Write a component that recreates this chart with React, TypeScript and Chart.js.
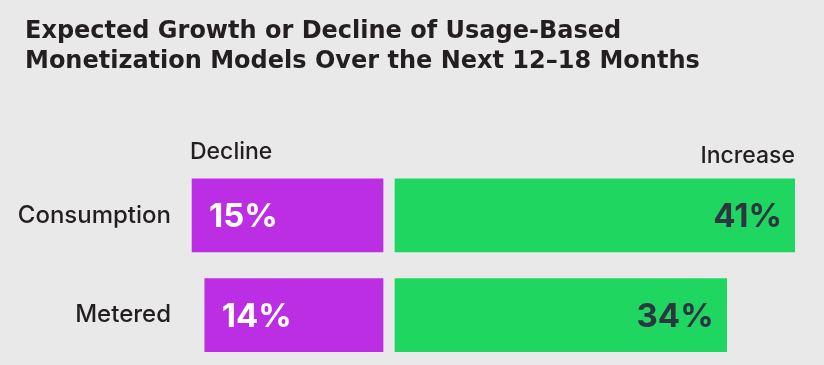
import { useEffect, useRef } from "react";
import { Chart, registerables } from "chart.js";

Chart.register(...registerables);

const TITLE_LINES = [
  "Expected Growth or Decline of Usage-Based",
  "Monetization Models Over the Next 12–18 Months",
];
const CATEGORIES = ["Consumption", "Metered"];
const DECLINE = [15, 14];
const INCREASE = [41, 34];
const DECLINE_LABEL = "Decline";
const INCREASE_LABEL = "Increase";

const BG = "#e9e9e9";
const TEXT = "#231f20";
const PURPLE = "#bb2ee3";
const GREEN = "#1fd760";
const DARK_LABEL = "#2c3641";

const valueLabels = {
  id: "valueLabels",
  afterLayout(chart: any) {
    // let the category labels use the space left of the title margin
    if (chart.scales.y) chart.scales.y.left = 0;
  },
  afterDatasetsDraw(chart: any) {
    const ctx = chart.ctx;
    chart.data.datasets.forEach((_ds: any, i: number) => {
      const meta = chart.getDatasetMeta(i);
      meta.data.forEach((el: any, j: number) => {
        const v = i === 0 ? DECLINE[j] : INCREASE[j];
        const left = Math.min(el.x, el.base);
        const right = Math.max(el.x, el.base);
        ctx.save();
        ctx.font = "700 33px Inter";
        ctx.textBaseline = "middle";
        if (i === 0) {
          ctx.fillStyle = "#ffffff";
          ctx.textAlign = "left";
          ctx.fillText(`${v}%`, left + 17, el.y + 2);
        } else {
          ctx.fillStyle = DARK_LABEL;
          ctx.textAlign = "right";
          ctx.fillText(`${v}%`, right - 13, el.y + 2);
        }
        ctx.restore();
      });
    });
  },
};

export default function App() {
  const ref = useRef<HTMLCanvasElement | null>(null);

  useEffect(() => {
    if (!ref.current) return;
    const chart = new Chart(ref.current, {
      type: "bar",
      data: {
        labels: CATEGORIES,
        datasets: [
          {
            label: DECLINE_LABEL,
            data: DECLINE.map((v) => -v),
            backgroundColor: PURPLE,
            xAxisID: "xDec",
            grouped: false,
            barThickness: 73,
          } as any,
          {
            label: INCREASE_LABEL,
            data: INCREASE,
            backgroundColor: GREEN,
            xAxisID: "xInc",
            grouped: false,
            barThickness: 73,
          } as any,
        ],
      },
      options: {
        indexAxis: "y",
        animation: false,
        responsive: false,
        devicePixelRatio: 1,
        layout: { padding: { left: 25, right: 29, top: 0, bottom: 0 } },
        plugins: {
          legend: { display: false },
          tooltip: { enabled: false },
          title: {
            display: true,
            text: TITLE_LINES,
            align: "start",
            color: TEXT,
            font: { family: "DejaVu Sans", weight: "bold", size: 24, lineHeight: 1.25 },
            padding: { top: 17, bottom: 61 },
          },
        },
        scales: {
          xDec: {
            type: "linear",
            position: "top",
            stack: "x",
            stackWeight: 199,
            weight: 1,
            min: -15.16,
            max: 0.47,
            grid: { display: false, drawTicks: false },
            border: { display: false },
            ticks: { display: false },
            title: {
              display: true,
              text: DECLINE_LABEL,
              align: "start",
              color: TEXT,
              font: { family: "Inter", weight: "500", size: 23, lineHeight: 1.2 },
              padding: { top: 0, bottom: 0 },
            },
          },
          xInc: {
            type: "linear",
            position: "top",
            stack: "x",
            stackWeight: 406,
            weight: 0,
            min: -0.615,
            max: 41,
            grid: { display: false, drawTicks: false },
            border: { display: false },
            ticks: { display: false },
            title: {
              display: true,
              text: INCREASE_LABEL,
              align: "end",
              color: TEXT,
              font: { family: "Inter", weight: "500", size: 23, lineHeight: 1.2 },
              padding: { top: 4, bottom: -4 },
            },
          },
          y: {
            type: "category",
            offset: true,
            grid: { display: false, drawTicks: false },
            border: { display: false },
            ticks: {
              color: TEXT,
              padding: 19,
              font: { family: "Inter", weight: "500", size: 24 },
            },
            afterFit: (scale: any) => {
              scale.width = 165;
              scale.paddingTop = 0;
              scale.paddingBottom = 0;
            },
          },
        },
      } as any,
      plugins: [valueLabels],
    });
    return () => chart.destroy();
  }, []);

  return (
    <div
      style={{
        position: "fixed",
        left: 0,
        top: 0,
        width: 824,
        height: 365,
        background: BG,
      }}
    >
      <canvas ref={ref} width={824} height={365} style={{ display: "block" }} />
    </div>
  );
}
